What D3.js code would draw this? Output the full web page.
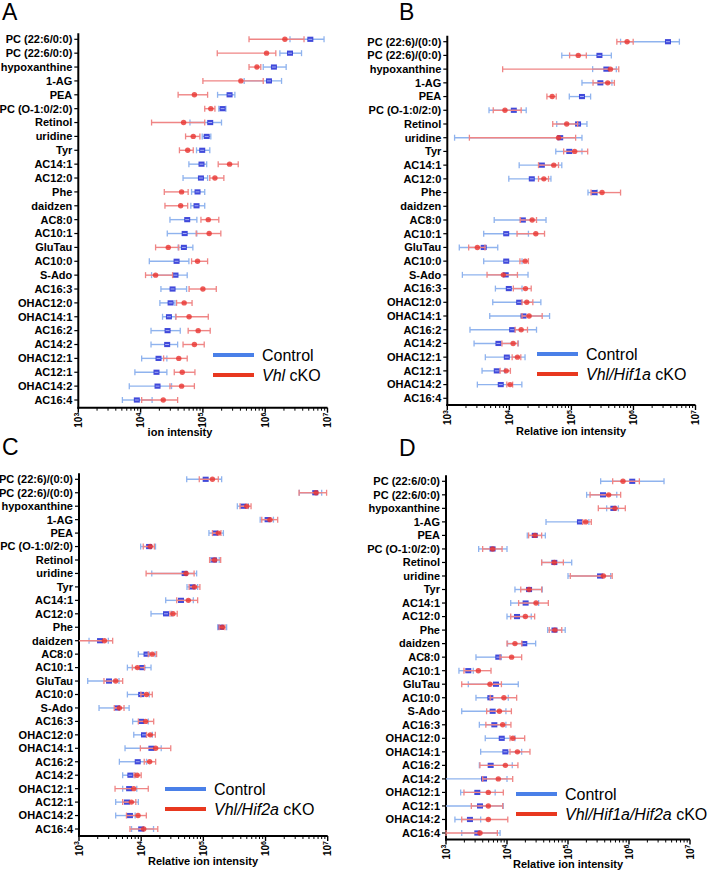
<!DOCTYPE html>
<html><head><meta charset="utf-8">
<script src="https://cdn.jsdelivr.net/npm/d3@7"></script>
<style>body{margin:0;background:#fff}svg{display:block}</style>
</head><body>
<svg id="c" width="708" height="871"></svg>
<script>
// ---------- DATA ----------
const labelsA = ["PC (22:6/0:0)","PC (22:6/0:0)","hypoxanthine","1-AG","PEA","PC (O-1:0/2:0)","Retinol","uridine","Tyr","AC14:1","AC12:0","Phe","daidzen","AC8:0","AC10:1","GluTau","AC10:0","S-Ado","AC16:3","OHAC12:0","OHAC14:1","AC16:2","AC14:2","OHAC12:1","AC12:1","OHAC14:2","AC16:4"];
const labelsB = ["PC (22:6)/(0:0)","PC (22:6)/(0:0)","hypoxanthine","1-AG","PEA","PC (O-1:0/2:0)","Retinol","uridine","Tyr","AC14:1","AC12:0","Phe","daidzen","AC8:0","AC10:1","GluTau","AC10:0","S-Ado","AC16:3","OHAC12:0","OHAC14:1","AC16:2","AC14:2","OHAC12:1","AC12:1","OHAC14:2","AC16:4"];
const labelsC = labelsB;
const labelsD = labelsA;
const xTicks = [1e3,1e4,1e5,1e6,1e7];

// Panel A: Control vs Vhl cKO
const aCtrlMean = [5.3e6,2.5e6,1.38e6,1.15e6,2.68e5,2.07e5,1.31e5,1.15e5,9.75e4,9.5e4,9.3e4,8.2e4,7.9e4,5.6e4,5.1e4,4.95e4,3.78e4,3.63e4,3.26e4,3.03e4,2.85e4,2.71e4,2.67e4,1.94e4,1.8e4,1.87e4,8.7e3];
const aCtrlLo   = [2.5e6,1.72e6,9.3e5,4.6e5,1.72e5,1.8e5,6.2e4,9.75e4,7.9e4,5.96e4,4.8e4,6.58e4,6.4e4,2.96e4,2.68e4,4.0e4,1.38e4,1.5e4,2.12e4,2.04e4,2.25e4,1.47e4,1.47e4,1.04e4,8.1e3,6.58e3,5.1e3];
const aCtrlHi   = [8.8e6,3.83e6,2.17e6,1.83e6,3.26e5,2.34e5,1.99e5,1.34e5,1.29e5,1.15e5,1.19e5,1.07e5,1.07e5,8.0e4,8.0e4,6.9e4,5.96e4,5.6e4,5.47e4,3.56e4,3.64e4,4.33e4,3.93e4,2.64e4,2.64e4,3.14e4,1.53e4];
const aKoMean   = [2.07e6,1.05e6,7.35e5,4.07e5,7.3e4,1.34e5,4.9e4,7.0e4,5.7e4,2.68e5,1.56e5,4.55e4,4.4e4,1.22e5,1.26e5,2.78e4,8.2e4,1.74e4,1.0e5,5.0e4,6.0e4,8.4e4,7.3e4,4.1e4,4.66e4,4.55e4,2.31e4];
const aKoLo     = [5.5e5,1.7e5,5.5e5,1.0e5,4.0e4,1.07e5,1.5e4,5.27e4,4.2e4,1.76e5,1.29e5,2.4e4,2.46e4,9.3e4,7.8e4,1.74e4,6.58e4,1.2e4,6.0e4,3.78e4,3.7e4,5.8e4,4.8e4,2.34e4,3.47e4,2.96e4,1.04e4];
const aKoHi     = [4.2e6,1.48e6,8.5e5,9.3e5,1.19e5,1.56e5,1.07e5,8.95e4,7.0e4,3.69e5,2.17e5,5.8e4,5.7e4,1.8e5,1.94e5,4.1e4,1.19e5,3.26e4,1.64e5,6.7e4,1.22e5,1.31e5,1.05e5,5.6e4,7.45e4,7.3e4,3.93e4];

// Panel B: Control vs Vhl/Hif1a cKO
const bCtrlMean = [3.6e6,2.83e5,3.66e5,2.93e5,1.48e5,1.18e4,1.28e5,6.6e4,9.25e4,3.34e4,2.3e4,2.34e5,null,1.65e4,8.9e3,3.86e3,8.9e3,8.75e3,9.8e3,1.44e4,1.69e4,1.11e4,6.67e3,9.1e3,6.27e3,7.27e3,null];
const bCtrlLo   = [6.2e5,7.0e4,2.2e5,1.48e5,9.25e4,4.7e3,5.8e4,1.31e3,5.6e4,1.44e4,9.8e3,1.85e5,null,5.7e3,3.86e3,1.56e3,3.86e3,1.75e3,5.96e3,5.4e3,4.83e3,2.32e3,2.7e3,4.1e3,3.63e3,3.05e3,null];
const bCtrlHi   = [5.5e6,4.4e5,5.3e5,4.5e5,2.04e5,1.87e4,1.78e5,1.48e5,1.48e5,7.0e4,4.68e4,2.6e5,null,3.9e4,2.03e4,6.5e3,1.6e4,2.0e4,1.6e4,3.22e4,4.45e4,2.74e4,1.4e4,1.79e4,8.5e3,1.59e4,null];
const bKoMean   = [7.9e5,1.29e5,4.25e5,3.85e5,4.9e4,8.5e3,8.4e4,6.2e4,1.13e5,5.2e4,3.6e4,3.12e5,null,2.33e4,2.67e4,3.05e3,1.8e4,8.0e3,1.82e4,1.91e4,2.08e4,1.55e4,1.15e4,1.35e4,8.9e3,1.03e4,null];
const bKoLo     = [5.4e5,9.35e4,7.8e3,2.23e5,4.03e4,5.5e3,5.0e4,2.27e3,7.5e4,2.95e4,2.95e4,2.07e5,null,1.5e4,1.33e4,2.21e3,1.48e4,4.37e3,1.16e4,1.6e4,1.6e4,1.24e4,7.6e3,1.11e4,7.1e3,9.1e3,null];
const bKoHi     = [9.9e5,1.74e5,5.8e5,4.93e5,5.7e4,1.55e4,1.26e5,1.17e5,1.83e5,6.2e4,4.28e4,6.2e5,null,2.74e4,3.69e4,4.05e3,2.03e4,1.35e4,2.25e4,2.39e4,3.38e4,1.96e4,1.37e4,1.53e4,1.04e4,1.13e4,null];

// Panel C: Control vs Vhl/Hif2a cKO
const cCtrlMean = [1.09e5,6.3e6,4.4e5,1.08e6,1.54e5,1.34e4,1.49e5,5.0e4,6.65e4,4.37e4,2.51e4,1.92e5,2.18e3,1.22e4,1.04e4,3.04e3,1.0e4,4.08e3,1.0e4,1.11e4,1.46e4,8.8e3,6.7e3,6.4e3,5.9e3,6.6e3,1.0e4];
const cCtrlLo   = [5.4e4,3.5e6,3.52e5,8.2e5,1.23e5,9.8e3,1.3e5,1.48e4,5.46e4,2.48e4,1.44e4,1.7e5,1.45e3,9.0e3,6.0e3,1.38e3,6.0e3,2.1e3,7.3e3,7.6e3,5.5e3,4.46e3,5.04e3,5.04e3,3.89e3,3.89e3,7.0e3];
const cCtrlHi   = [1.97e5,8.0e6,5.3e5,1.34e6,2.1e5,1.7e4,1.8e5,7.8e4,8.1e4,6.9e4,3.1e4,2.37e5,2.96e3,1.68e4,1.44e4,4.4e3,1.35e4,6.4e3,1.3e4,1.51e4,2.1e4,1.22e4,8.0e3,8.5e3,9.0e3,8.0e3,1.58e4];
const cKoMean   = [1.4e5,6.5e6,4.98e5,1.18e6,1.74e5,1.4e4,1.52e5,5.27e4,7.2e4,5.74e4,3.25e4,2.02e5,2.56e3,1.51e4,8.7e3,3.89e3,1.22e4,4.46e3,1.18e4,1.4e4,1.71e4,1.37e4,8.6e3,7.6e3,6.95e3,8.9e3,1.1e4];
const cKoLo     = [8.6e4,3.46e6,3.89e5,8.7e5,1.4e5,1.08e4,1.26e5,1.2e4,5.9e4,3.73e4,2.91e4,1.79e5,9.0e2,1.3e4,7.2e3,2.52e3,9.9e3,3.7e3,9.0e3,1.22e4,9.7e3,1.12e4,7.7e3,3.8e3,5.04e3,5.8e3,6.6e3];
const cKoHi     = [1.74e5,9.6e6,5.85e5,1.57e6,1.92e5,1.63e4,1.9e5,7.1e4,8.8e4,8.1e4,3.8e4,2.23e5,3.48e3,1.77e4,1.13e4,5.04e3,1.51e4,5.3e3,1.59e4,1.69e4,2.99e4,1.71e4,1.0e4,1.3e4,8.2e3,1.21e4,1.85e4];

// Panel D: Control vs Vhl/Hif1a/Hif2a cKO
const dCtrlMean = [1.13e6,3.75e5,5.54e5,1.57e5,2.85e4,5.8e3,5.97e4,3.35e5,2.3e4,2.02e4,1.46e4,6.0e4,1.92e4,7.2e3,2.32e3,6.6e3,5.33e3,5.82e3,6.2e3,8.2e3,9.4e3,5.4e3,4.2e3,3.26e3,3.61e3,2.47e3,3.26e3];
const dCtrlLo   = [3.43e5,2.02e5,4.3e5,4.36e4,2.15e4,3.43e3,3.7e4,1.0e5,1.35e4,1.15e4,1.0e4,4.64e4,1.02e4,3.1e3,1.63e3,2.32e3,3.1e3,1.81e3,3.52e3,4.4e3,3.7e3,3.52e3,8.0e2,1.74e3,8.0e2,1.4e3,1.81e3];
const dCtrlHi   = [3.75e6,6.3e5,6.7e5,2.2e5,4.25e4,1.0e4,1.15e5,5.0e5,3.8e4,3.3e4,2.5e4,9.0e4,2.95e4,8.0e3,2.8e3,1.53e4,1.05e4,9.6e3,9.6e3,1.35e4,1.74e4,1.22e4,1.0e4,6.4e3,8.7e3,3.7e3,7.7e3];
const dKoMean   = [7.97e5,4.64e5,5.9e5,1.95e5,2.88e4,5.82e3,5.97e4,3.8e5,2.3e4,2.99e4,2.0e4,6.1e4,1.35e4,1.19e4,3.39e3,5.26e3,8.9e3,7.5e3,8.5e3,1.25e4,1.48e4,9.4e3,7.2e3,4.94e3,4.94e3,4.94e3,3.61e3];
const dKoLo     = [5.4e5,2.3e5,3.14e5,1.74e5,2.26e4,3.99e3,3.7e4,1.09e5,1.68e4,1.55e4,1.15e4,4.93e4,1.0e4,7.7e3,1.97e3,1.81e3,5.3e3,4.64e3,4.5e3,1.12e4,1.12e4,3.6e3,4.0e3,1.97e3,2.6e3,1.81e3,1.0e3];
const dKoHi     = [1.48e6,7.3e5,8.7e5,2.41e5,3.7e4,8.3e3,8.4e4,5.3e5,3.7e4,4.76e4,2.84e4,7.9e4,1.75e4,1.74e4,5.47e3,8.1e3,1.44e4,1.18e4,1.16e4,1.95e4,2.38e4,1.51e4,1.24e4,8.7e3,8.5e3,1.03e4,6.95e3];

// ---------- LAYOUT ----------
const panels = [
  {letter:"A", labels:labelsA, ctrl:[aCtrlMean,aCtrlLo,aCtrlHi], ko:[aKoMean,aKoLo,aKoHi],
   koItalic:"Vhl", xTitle:"ion intensity", x0:78.3, x1:327.5, y0:39.3, y1:400, base:407.7,
   titleX:180, titleY:436, lx:213, ly:355, letterX:2, letterY:20},
  {letter:"B", labels:labelsB, ctrl:[bCtrlMean,bCtrlLo,bCtrlHi], ko:[bKoMean,bKoLo,bKoHi],
   koItalic:"Vhl/Hif1a", xTitle:"Relative ion intensity", x0:447.3, x1:695.5, y0:41.7, y1:398.3, base:405,
   titleX:571, titleY:435, lx:537, ly:354, letterX:399, letterY:20},
  {letter:"C", labels:labelsC, ctrl:[cCtrlMean,cCtrlLo,cCtrlHi], ko:[cKoMean,cKoLo,cKoHi],
   koItalic:"Vhl/Hif2a", xTitle:"Relative ion intensity", x0:79, x1:327.7, y0:479.3, y1:829, base:836,
   titleX:203, titleY:865, lx:165, ly:789, letterX:2, letterY:455},
  {letter:"D", labels:labelsD, ctrl:[dCtrlMean,dCtrlLo,dCtrlHi], ko:[dKoMean,dKoLo,dKoHi],
   koItalic:"Vhl/Hif1a/Hif2a", xTitle:"Relative ion intensity", x0:446, x1:690, y0:481.3, y1:833, base:839.5,
   titleX:568, titleY:868, lx:516, ly:794, letterX:399, letterY:456}
];

const FONT = "'Liberation Sans', Arial, Helvetica, sans-serif";
const svg = d3.select("#c").style("font-family", FONT);
const BLUE_BAR = "#8fb3ee", BLUE_PT = "#2b35d6", RED_BAR = "#ef8585", RED_PT = "#e8332f";

panels.forEach(p => {
  const g = svg.append("g");
  const x = d3.scaleLog().domain([1e3,1e7]).range([p.x0,p.x1]).clamp(true);
  const y = d3.scalePoint().domain(d3.range(p.labels.length)).range([p.y0,p.y1]);

  // letter
  g.append("text").attr("x",p.letterX).attr("y",p.letterY).attr("font-size",23).text(p.letter);

  // y axis labels and ticks
  p.labels.forEach((lab,i)=>{
    g.append("text").attr("x",p.x0-6).attr("y",y(i)).attr("dy","0.35em")
      .attr("text-anchor","end").attr("font-size",11).attr("font-weight","bold").text(lab);
    g.append("line").attr("x1",p.x0-4).attr("x2",p.x0).attr("y1",y(i)).attr("y2",y(i))
      .attr("stroke","#000").attr("stroke-width",1.2);
  });

  // x ticks (major + minor)
  const minor = [];
  for (let e=3;e<7;e++) for (let m=2;m<=9;m++) minor.push(m*Math.pow(10,e));
  minor.forEach(v=>g.append("line").attr("x1",x(v)).attr("x2",x(v)).attr("y1",p.base).attr("y2",p.base+3)
      .attr("stroke","#000").attr("stroke-width",1));
  xTicks.forEach(v=>{
    g.append("line").attr("x1",x(v)).attr("x2",x(v)).attr("y1",p.base).attr("y2",p.base+5)
      .attr("stroke","#000").attr("stroke-width",1.4);
    const t = g.append("text").attr("transform",`translate(${x(v)},${p.base+5}) rotate(-90)`)
      .attr("text-anchor","end").attr("dy","0.35em").attr("font-size",10).attr("font-weight","bold");
    t.append("tspan").text("10");
    t.append("tspan").attr("dy","-0.45em").attr("font-size",7).text(String(Math.round(Math.log10(v))));
  });

  // axis lines
  g.append("line").attr("x1",p.x0).attr("x2",p.x0).attr("y1",p.y0-6).attr("y2",p.base+1)
    .attr("stroke","#000").attr("stroke-width",2);
  g.append("line").attr("x1",p.x0-1).attr("x2",p.x1).attr("y1",p.base).attr("y2",p.base)
    .attr("stroke","#000").attr("stroke-width",2);

  // x title
  g.append("text").attr("x",p.titleX).attr("y",p.titleY).attr("text-anchor","middle")
    .attr("font-size",11).attr("font-weight","bold").text(p.xTitle);

  // series
  function drawSeries(s, barColor, ptColor, shape){
    const [mean,lo,hi] = s;
    mean.forEach((m,i)=>{
      if (m==null) return;
      const yy = y(i), a = x(lo[i]), b = x(hi[i]);
      g.append("line").attr("x1",a).attr("x2",b).attr("y1",yy).attr("y2",yy)
        .attr("stroke",barColor).attr("stroke-width",1.4);
      [lo[i],hi[i]].forEach(v=>{
        if (v < 1e3) return;
        g.append("line").attr("x1",x(v)).attr("x2",x(v)).attr("y1",yy-3).attr("y2",yy+3)
          .attr("stroke",barColor).attr("stroke-width",1.3);
      });
      const cx = x(m);
      if (shape==="square"){
        g.append("rect").attr("x",cx-3).attr("y",yy-2.6).attr("width",6).attr("height",5.2)
          .attr("fill",ptColor).attr("opacity",0.9);
        g.append("line").attr("x1",cx-2).attr("x2",cx+2).attr("y1",yy).attr("y2",yy)
          .attr("stroke","#c8ccff").attr("stroke-width",0.8);
      } else {
        g.append("circle").attr("cx",cx).attr("cy",yy).attr("r",2.7)
          .attr("fill",ptColor).attr("opacity",0.8);
      }
    });
  }
  drawSeries(p.ctrl, BLUE_BAR, BLUE_PT, "square");
  drawSeries(p.ko, RED_BAR, RED_PT, "circle");

  // legend
  g.append("line").attr("x1",p.lx).attr("x2",p.lx+41).attr("y1",p.ly).attr("y2",p.ly)
    .attr("stroke","#4a80e8").attr("stroke-width",4);
  g.append("line").attr("x1",p.lx).attr("x2",p.lx+41).attr("y1",p.ly+20).attr("y2",p.ly+20)
    .attr("stroke","#e8381f").attr("stroke-width",4);
  g.append("text").attr("x",p.lx+49).attr("y",p.ly).attr("dy","0.35em").attr("font-size",16).text("Control");
  const t2 = g.append("text").attr("x",p.lx+49).attr("y",p.ly+20).attr("dy","0.35em").attr("font-size",16);
  t2.append("tspan").attr("font-style","italic").text(p.koItalic);
  t2.append("tspan").text(" cKO");
});
</script>
</body></html>
